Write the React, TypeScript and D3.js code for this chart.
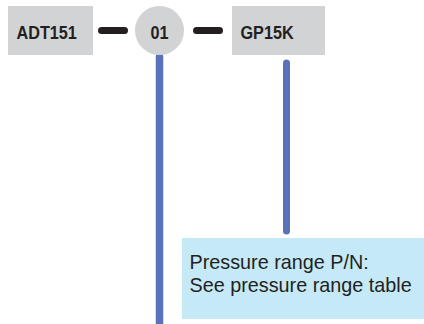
import * as d3 from "d3";
import { useEffect, useRef } from "react";

const parts = ["ADT151", "01", "GP15K"];
const shapes = ["box", "circle", "box"];
const noteLines = ["Pressure range P/N:", "See pressure range table"];

const W = 424;
const H = 324;

const App = () => {
  const ref = useRef<SVGSVGElement>(null);

  useEffect(() => {
    const svg = d3.select(ref.current);
    svg.selectAll("*").remove();

    const x = d3.scaleOrdinal<string, number>().domain(parts).range([50.5, 159.5, 278.5]);
    const widths = d3.scaleOrdinal<string, number>().domain(parts).range([85, 49, 93]);
    const cy = 30.5;

    // connectors between the parts
    const dashes = [
      [98, 128],
      [193, 223],
    ];
    svg
      .selectAll("line.dash")
      .data(dashes)
      .join("line")
      .attr("class", "dash")
      .attr("x1", (d) => d[0] + 3.5)
      .attr("x2", (d) => d[1] - 3.5)
      .attr("y1", cy)
      .attr("y2", cy)
      .attr("stroke", "#231f20")
      .attr("stroke-width", 7)
      .attr("stroke-linecap", "round");

    // blue leader lines
    svg
      .append("line")
      .attr("x1", x("01"))
      .attr("x2", x("01"))
      .attr("y1", 57)
      .attr("y2", 330)
      .attr("stroke", "#5b72ba")
      .attr("stroke-width", 7.5)
      .attr("stroke-linecap", "round");
    svg
      .append("line")
      .attr("x1", 286.5)
      .attr("x2", 286.5)
      .attr("y1", 63)
      .attr("y2", 231)
      .attr("stroke", "#5b72ba")
      .attr("stroke-width", 7)
      .attr("stroke-linecap", "round");

    const g = svg.selectAll("g.part").data(parts).join("g").attr("class", "part");
    g.each(function (d, i) {
      const el = d3.select(this);
      const w = widths(d);
      if (shapes[i] === "circle") {
        el.append("circle").attr("cx", x(d)).attr("cy", cy).attr("r", w / 2).attr("fill", "#d1d3d4");
      } else {
        el.append("rect")
          .attr("x", x(d) - w / 2)
          .attr("y", 6)
          .attr("width", w)
          .attr("height", 49)
          .attr("fill", "#d1d3d4");
      }
      const t = el
        .append("text")
        .attr("x", shapes[i] === "circle" ? x(d) : x(d) - w / 2 + 8.5)
        .attr("y", 39.3)
        .attr("text-anchor", shapes[i] === "circle" ? "middle" : "start")
        .attr("font-family", "Liberation Sans, Arial, sans-serif")
        .attr("font-weight", "bold")
        .attr("font-size", 18)
        .attr("fill", "#231f20")
        .text(d);
      // the original lettering is a bit condensed
      const node = t.node() as SVGTextElement;
      t.attr("textLength", node.getComputedTextLength() * 0.9).attr("lengthAdjust", "spacingAndGlyphs");
    });

    // note box
    svg.append("rect").attr("x", 182).attr("y", 238).attr("width", W - 182).attr("height", 81).attr("fill", "#c6e9f8");
    svg
      .selectAll("text.note")
      .data(noteLines)
      .join("text")
      .attr("class", "note")
      .attr("x", 189.5)
      .attr("y", (_, i) => 268.5 + i * 23)
      .attr("font-family", "Liberation Sans, Arial, sans-serif")
      .attr("font-size", 19.8)
      .attr("fill", "#231f20")
      .text((d) => d);
  }, []);

  return (
    <svg
      ref={ref}
      width={W}
      height={H}
      style={{ position: "absolute", left: 0, top: 0, background: "#fff" }}
    />
  );
};

export default App;
